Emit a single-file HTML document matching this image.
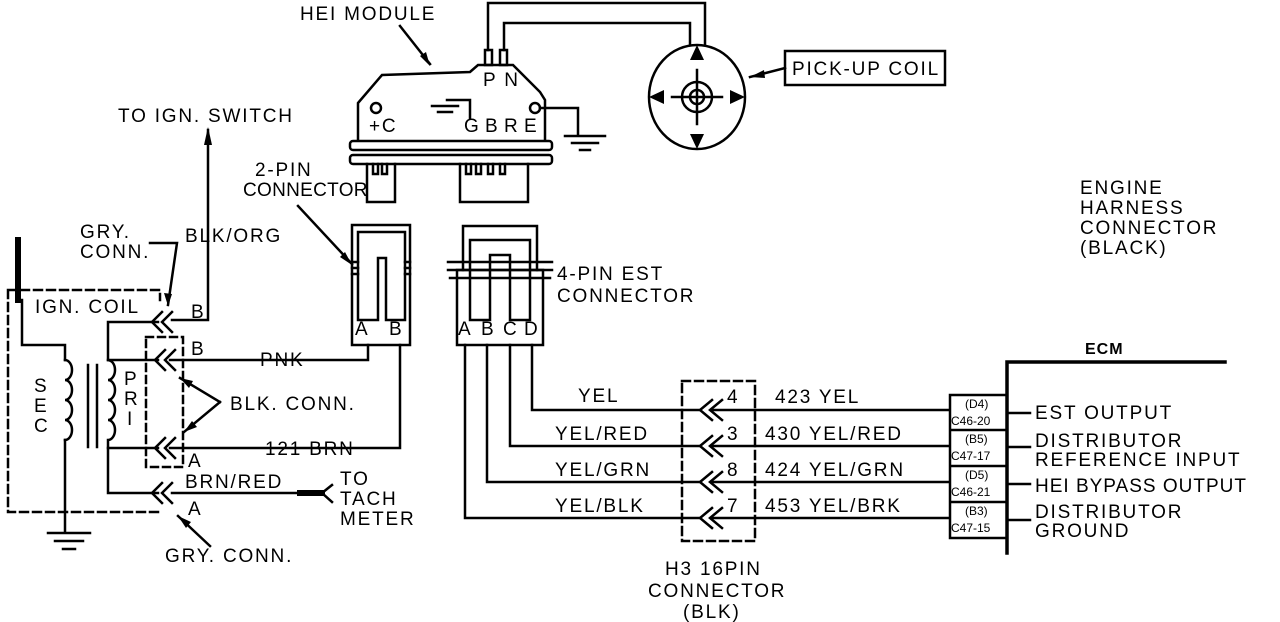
<!DOCTYPE html>
<html><head><meta charset="utf-8"><style>
html,body{margin:0;padding:0;background:#fff;}
svg{display:block;}
text{font-family:"Liberation Sans",sans-serif;fill:#000;}
</style></head><body>
<svg width="1280" height="622" viewBox="0 0 1280 622" xmlns="http://www.w3.org/2000/svg">
<g stroke="#000" fill="none" stroke-width="2.5" stroke-linecap="square">
<path d="M358,140 L358,103 L382,75 L470,72 L478,65 L513,65 L540,92 L545,100 L545,140"/>
<rect x="350" y="141" width="202" height="9" rx="3"/>
<rect x="350" y="155" width="202" height="9" rx="3"/>
<path d="M367,164 L367,202 L395,202 L395,164"/>
<path d="M373,164 v10 h5 v-10 M382,164 v10 h5 v-10"/>
<path d="M460,164 L460,202 L528,202 L528,164"/>
<path d="M466,164 v10 h5 v-10 M476,164 v10 h5 v-10 M488,164 v10 h5 v-10 M500,164 v10 h5 v-10"/>
<rect x="485" y="50" width="7" height="15"/>
<rect x="500" y="50" width="7" height="15"/>
<path d="M488,50 V3 H705 V45"/>
<path d="M504,50 V23 H690 V45"/>
<circle cx="376" cy="108" r="5"/>
<path d="M447,100 H470 V118 M432,106 H458 M438,112 H452"/>
<circle cx="535" cy="108" r="5"/>
<path d="M540,108 H578 V135 M565,136 H605 M572,143 H598 M580,150 H590"/>
<path d="M400,26 L430,64"/>
<ellipse cx="697" cy="97" rx="48" ry="52"/>
<circle cx="697" cy="97" r="15"/>
<circle cx="697" cy="97" r="7"/>
<path d="M697,70 V124 M672,97 H722"/>
<rect x="785" y="51" width="160" height="34"/>
<path d="M785,68 L750,77"/>
<rect x="352" y="225" width="58" height="120"/>
<path d="M358,320 V232 H405 V320 H386 V258 H378 V320 Z"/>
<path d="M352,262 h6 M352,268 h6 M352,274 h6 M405,262 h5 M405,268 h5 M405,274 h5"/>
<path d="M298,206 L352,264"/>
<rect x="457" y="270" width="86" height="75"/>
<path d="M463,270 V226 H537 V270"/>
<path d="M470,320 V240 H530 V320 H510 V255 H490 V320 Z"/>
<path d="M448,262 H552 M448,270 H552 M450,278 H550"/>
<path d="M368,345 V360 H170 M400,345 V448 H170"/>
<path d="M532,345 V410 H700 M510,345 V446 H700 M487,345 V482 H700 M465,345 V518 H700"/>
<rect x="682" y="381" width="73" height="160" stroke-dasharray="8,5"/>
<path d="M712,400 L700,410 L712,420 M722,400 L710,410 L722,420"/>
<path d="M712,436 L700,446 L712,456 M722,436 L710,446 L722,456"/>
<path d="M712,472 L700,482 L712,492 M722,472 L710,482 L722,492"/>
<path d="M712,508 L700,518 L712,528 M722,508 L710,518 L722,528"/>
<path d="M712,410 H948 M712,446 H948 M712,482 H948 M712,518 H948"/>
<path d="M1007,362 H1225 M1007,362 V553" stroke-width="3.5"/>
<path d="M950,395 H1007 V538 H950 Z M950,430 H1007 M950,466 H1007 M950,502 H1007"/>
<path d="M1007,413 H1030 M1007,447 H1030 M1007,484 H1030 M1007,520 H1030"/>
<path d="M18,240 V300" stroke-width="6"/>
<path d="M8,290 H160 V300 M8,290 V512 H160" stroke-dasharray="8,5"/>
<path d="M22,300 V345 H65 V360"/>
<path d="M65,360 a7,10 0 1 1 0,20 a7,10 0 1 1 0,20 a7,10 0 1 1 0,20 a7,10 0 1 1 0,20"/>
<path d="M65,440 V533 M48,533 H90 M55,541 H83 M63,549 H75"/>
<path d="M88,365 V447 M97,365 V447"/>
<path d="M158,322 H108 V360 H158"/>
<path d="M108,360 a7,10 0 1 1 0,20 a7,10 0 1 1 0,20 a7,10 0 1 1 0,20 a7,10 0 1 1 0,20 V448 H158"/>
<path d="M108,448 V493 H158"/>
<rect x="146" y="337" width="37" height="130" stroke-dasharray="7,5"/>
<path d="M162,312 L152,322 L162,332 M172,312 L162,322 L172,332"/>
<path d="M165,350 L155,360 L165,370 M175,350 L165,360 L175,370"/>
<path d="M165,438 L155,448 L165,458 M175,438 L165,448 L175,458"/>
<path d="M162,483 L152,493 L162,503 M172,483 L162,493 L172,503"/>
<path d="M208,130 V320 H172"/>
<path d="M150,243 H177 L168,305"/>
<path d="M220,402 L180,378 M220,402 L184,432"/>
<path d="M172,493 H320"/>
<path d="M300,493 H322" stroke-width="6"/>
<path d="M322,493 L332,485 M322,493 L332,502"/>
<path d="M210,546 L178,516"/>
</g>
<g fill="#000">
<polygon points="208,127 204,145 212,145"/>
<polygon points="168,306 164,293 172,294"/>
<polygon points="430,66 420,56 426,52"/>
<polygon points="352,265 340,257 345,252"/>
<polygon points="750,77 764,70 765,78"/>
<polygon points="180,378 193,381 189,388"/>
<polygon points="184,432 192,421 197,427"/>
<polygon points="178,516 191,522 186,528"/>
<polygon points="697,45 690,60 704,60"/>
<polygon points="697,149 690,134 704,134"/>
<polygon points="649,97 664,90 664,104"/>
<polygon points="745,97 730,90 730,104"/>
</g>
<g font-size="19" letter-spacing="1.8">
<text x="300" y="20">HEI MODULE</text>
<text x="118" y="122">TO IGN. SWITCH</text>
<text x="255" y="176">2-PIN</text>
<text x="243" y="196" letter-spacing="0.3">CONNECTOR</text>
<text x="483" y="86">P N</text>
<text x="369" y="132">+C</text>
<text x="464" y="132" letter-spacing="0.5">G B R E</text>
<text x="792" y="75">PICK-UP COIL</text>
<text x="1080" y="194">ENGINE</text>
<text x="1080" y="214">HARNESS</text>
<text x="1080" y="234">CONNECTOR</text>
<text x="1080" y="254">(BLACK)</text>
<text x="557" y="280">4-PIN EST</text>
<text x="557" y="302">CONNECTOR</text>
<text x="355" y="335" letter-spacing="0">A</text><text x="389" y="335" letter-spacing="0">B</text>
<g letter-spacing="0"><text x="458" y="335">A</text><text x="481" y="335">B</text><text x="503" y="335">C</text><text x="524" y="335">D</text></g>
<text x="80" y="238">GRY.</text>
<text x="80" y="258">CONN.</text>
<text x="185" y="242">BLK/ORG</text>
<text x="35" y="313">IGN. COIL</text>
<text x="191" y="318">B</text>
<text x="191" y="355">B</text>
<text x="260" y="366">PNK</text>
<text x="230" y="410">BLK. CONN.</text>
<text x="265" y="455">121 BRN</text>
<text x="188" y="467">A</text>
<text x="185" y="488">BRN/RED</text>
<text x="188" y="515">A</text>
<text x="165" y="562">GRY. CONN.</text>
<text x="340" y="485">TO</text>
<text x="340" y="505">TACH</text>
<text x="340" y="525">METER</text>
<text x="34" y="392">S</text><text x="34" y="412">E</text><text x="34" y="432">C</text>
<text x="124" y="385">P</text><text x="124" y="405">R</text><text x="127" y="425">I</text>
<text x="578" y="402">YEL</text>
<text x="555" y="440">YEL/RED</text>
<text x="555" y="476">YEL/GRN</text>
<text x="555" y="512">YEL/BLK</text>
<text x="727" y="403">4</text><text x="727" y="440">3</text><text x="727" y="476">8</text><text x="727" y="512">7</text>
<text x="775" y="403">423  YEL</text>
<text x="765" y="440">430 YEL/RED</text>
<text x="765" y="476">424 YEL/GRN</text>
<text x="765" y="512">453 YEL/BRK</text>
<text x="1085" y="354" font-weight="bold" font-size="16" letter-spacing="1">ECM</text>
<text x="1035" y="419">EST OUTPUT</text>
<text x="1035" y="447">DISTRIBUTOR</text>
<text x="1035" y="466">REFERENCE INPUT</text>
<text x="1035" y="492" letter-spacing="1">HEI BYPASS OUTPUT</text>
<text x="1035" y="518">DISTRIBUTOR</text>
<text x="1035" y="537">GROUND</text>
<text x="665" y="575">H3 16PIN</text>
<text x="648" y="597">CONNECTOR</text>
<text x="683" y="618">(BLK)</text>
</g>
<g font-size="12">
<text x="965" y="408">(D4)</text><text x="951" y="425">C46-20</text>
<text x="965" y="443">(B5)</text><text x="951" y="460">C47-17</text>
<text x="965" y="479">(D5)</text><text x="951" y="496">C46-21</text>
<text x="965" y="515">(B3)</text><text x="951" y="532">C47-15</text>
</g>
</svg>
</body></html>
